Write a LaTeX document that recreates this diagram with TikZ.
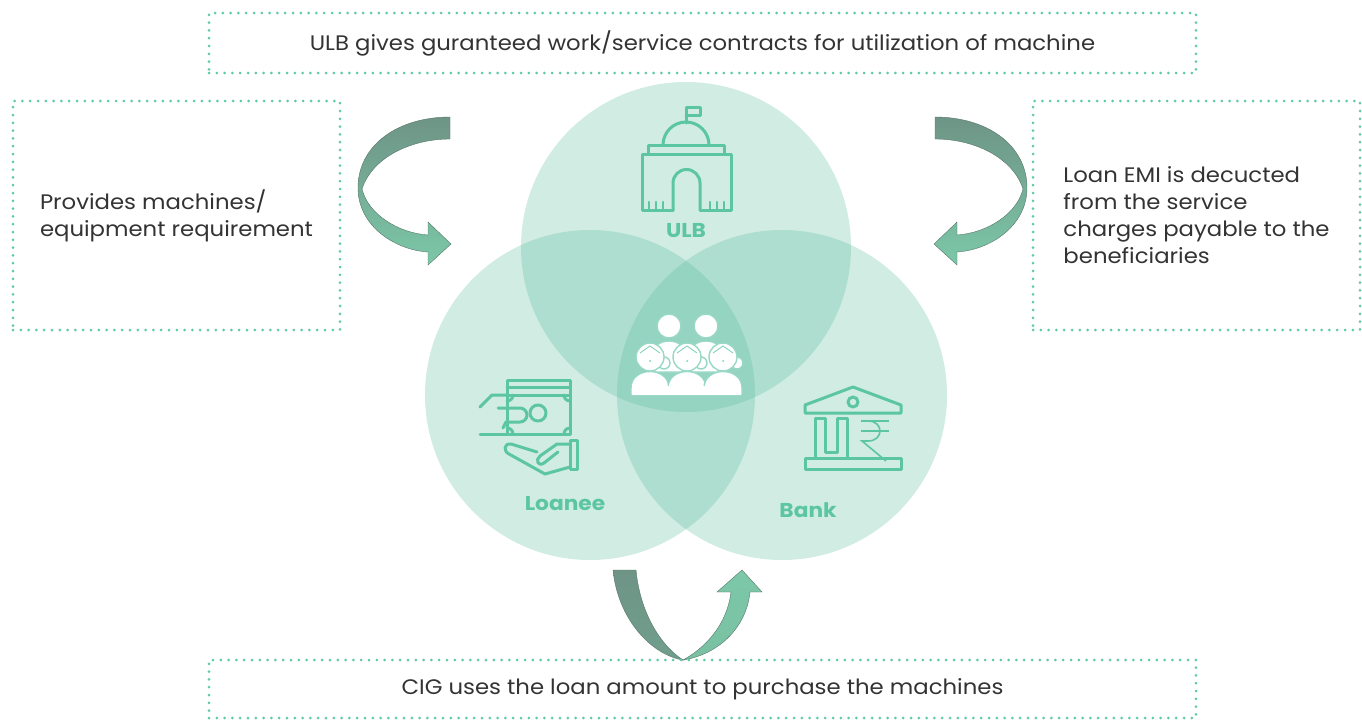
\documentclass[tikz,border=0pt]{standalone}
\usepackage{fontspec}
\setmainfont{Poppins}[FakeStretch=1.085]
\usepackage{tikz}
\usetikzlibrary{positioning,calc}

\definecolor{dotgreen}{RGB}{94,203,163}
\definecolor{iconteal}{RGB}{92,197,162}
\definecolor{venn}{RGB}{85,186,154}
\definecolor{vsingle}{RGB}{208,236,227}
\definecolor{trip}{RGB}{152,216,198}
\definecolor{arrdark}{RGB}{110,148,134}
\definecolor{arrlight}{RGB}{124,200,168}
\definecolor{txt}{RGB}{51,51,51}

\tikzset{
  notebox/.style={draw=dotgreen, line width=3pt, dash pattern=on 0pt off 7.8pt, line cap=round,
    align=left, text=txt, font=\fontsize{21}{27}\selectfont, inner sep=0pt},
  venn/.style={circle, fill=venn, fill opacity=.28, minimum size=330pt, inner sep=0pt},
  vlabel/.style={text=iconteal, font=\bfseries\fontsize{20}{20}\selectfont},
  icon/.style={draw=iconteal, line width=3pt, line join=round, line cap=round},
  person/.style={fill=white, draw=trip, line width=1.4pt},
  curl/.pic={
    \shade[top color=arrdark, bottom color=arrlight, draw=arrdark!80!black, line width=.4pt]
      (450,117) .. controls (398,117) and (358,145) .. (358,188)
      .. controls (358,226) and (395,250) .. (428,252)
      -- (428,265) -- (451,244) -- (428,222) -- (428,235)
      .. controls (398,233) and (368,214) .. (362,189)
      .. controls (372,158) and (410,139) .. (450,139) -- cycle;
  }
}

\begin{document}
\begin{tikzpicture}[x=1pt,y=-1pt]
    \useasboundingbox (0,0) rectangle (1362,720);

    % venn circles
    \node[venn] (ulb) at (686,247) {};
    \node[venn] (loanee) at (590,395) {};
    \node[venn] (bank) at (782,395) {};

    \node[vlabel] (ulbl) at (686,231) {ULB};
    \node[vlabel] (loaneel) at (565,504) {Loanee};
    \node[vlabel] (bankl) at (808,510) {Bank};

    % ULB building
    \draw[icon] (686,123) -- (686,107) -- (700,107) -- (700,115) -- (686,115);
    \draw[icon] (663,145) arc[start angle=180, end angle=360, radius=23];
    \draw[icon] (648,145) rectangle (724,154);
    \draw[icon] (673,210) -- (642,210) -- (642,154) -- (731,154) -- (731,210) -- (700,210);
    \draw[icon] (673,210) -- (673,183) arc[start angle=180, end angle=360, radius=13.5] -- (700,210);
    \foreach \x in {649,656,663,710,717,724}
      \draw[icon, line width=2.2pt] (\x,202) -- (\x,210);

    % people
    \foreach \c in {669,706} {
      \draw[person] (\c-17,372) -- (\c-17,356) .. controls (\c-17,336) and (\c+17,336) .. (\c+17,356) -- (\c+17,372) -- cycle;
      \draw[person] (\c,326) circle (12);
    }
    \foreach \c in {650,687,723} {
      \draw[person] (\c-19,395) -- (\c-19,388) .. controls (\c-19,366) and (\c+19,366) .. (\c+19,388) -- (\c+19,395) -- cycle;
      \draw[person] (\c+14,363) circle (6);
      \draw[person] (\c,357) circle (14);
      \draw[trip!50!iconteal, line width=.8pt] (\c-10,353) .. controls (\c-5,350) .. (\c,346) .. controls (\c+5,350) .. (\c+10,353);
      \fill[trip!50!iconteal] (\c,361) circle (1);
    }
    \fill[white] (632,386) rectangle (741,395);

    % loanee: hand and note
    \draw[icon] (507,380) rectangle (570,434);
    \draw[icon] (507,387) -- (570,387);
    \draw[icon] (507,395) -- (570,395);
    \draw[icon] (513,395) arc[start angle=0, end angle=90, radius=6];
    \draw[icon] (564,395) arc[start angle=180, end angle=90, radius=6];
    \draw[icon] (513,434) arc[start angle=0, end angle=-90, radius=6];
    \draw[icon] (564,434) arc[start angle=180, end angle=270, radius=6];
    \draw[icon] (538,413) circle (8);
    \draw[icon] (480,407) -- (492,395) -- (507,395);
    \draw[icon] (498,408) -- (520,408) arc[start angle=-90, end angle=90, radius=7] -- (506,422) -- (503,428);
    \draw[icon] (480,434) -- (507,434);
    \draw[icon] (570,444) -- (557,444) -- (540,456) .. controls (535,460) and (538,467) .. (544,463) -- (558,452);
    \draw[icon] (537,452) -- (511,444) .. controls (504,443) and (503,451) .. (509,454) -- (545,474) -- (570,467);
    \draw[icon] (570,440) rectangle (577,469);

    % bank
    \draw[icon] (853,387) -- (805,405) -- (805,413) -- (901,413) -- (901,405) -- cycle;
    \draw[icon] (853,402) circle (5);
    \draw[icon] (815,458) -- (815,418) -- (825,418) -- (825,452) -- (837,452) -- (837,418) -- (847,418) -- (847,458);
    \draw[icon] (805,458) rectangle (901,469);
    \begin{scope}[draw=iconteal, double=vsingle, double distance=2pt, line width=1.6pt]
      \draw (861,421) -- (889,421);
      \draw (861,431) -- (889,431);
      \draw (861,421) -- (868,421) .. controls (884,421) and (884,441) .. (868,441) -- (862,441) -- (886,461);
    \end{scope}

    % curved arrows
    \pic at (0,0) {curl};
    \pic[xscale=-1] at (1385,0) {curl};
    \shade[top color=arrdark, bottom color=arrdark!80!arrlight, draw=arrdark!80!black, line width=.4pt]
      (613,570) -- (636,570) .. controls (640,612) and (660,645) .. (683,660)
      .. controls (652,655) and (618,620) .. (613,570) -- cycle;
    \shade[bottom color=arrlight!85!arrdark, top color=arrlight, draw=arrdark!80!black, line width=.4pt]
      (683,660) .. controls (705,648) and (727,625) .. (731,592) -- (717,592) -- (742,570)
      -- (762,592) -- (750,592) .. controls (746,630) and (716,655) .. (683,660) -- cycle;

    % boxes
    \node[notebox, minimum width=987pt, minimum height=60pt] (top) at (702.5,43)
      {ULB gives guranteed work/service contracts for utilization of machine};
    \node[notebox, minimum width=327pt, minimum height=229pt] (left) at (176.5,215.5)
      {Provides machines/\\equipment requirement};
    \node[notebox, minimum width=327pt, minimum height=229pt] (right) at (1196.5,215.5)
      {Loan EMI is decucted\\from the service\\charges payable to the\\beneficiaries};
    \node[notebox, minimum width=987pt, minimum height=58pt] (bottom) at (702.5,689)
      {CIG uses the loan amount to purchase the machines};
\end{tikzpicture}
\end{document}
